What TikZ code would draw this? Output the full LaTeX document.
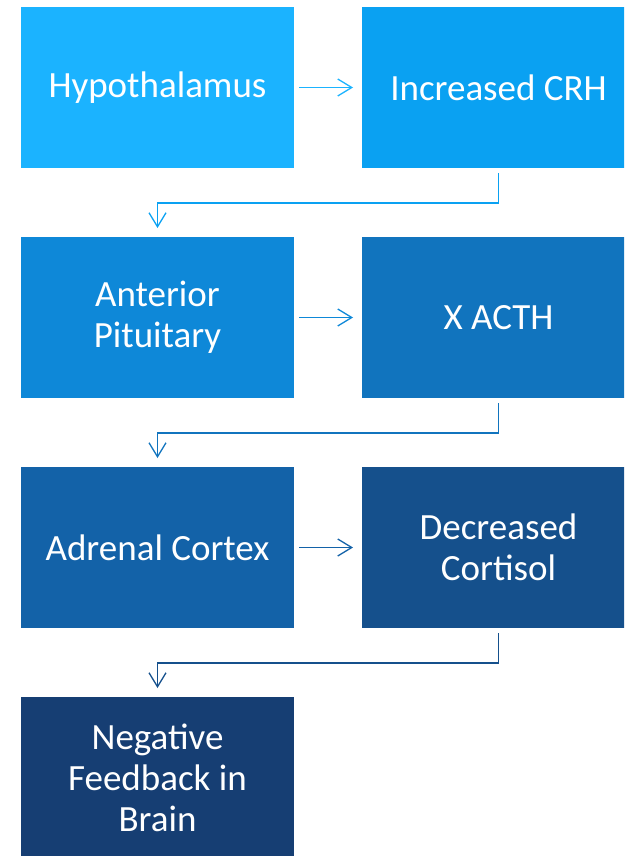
\documentclass[tikz,border=0pt]{standalone}
\usepackage{fontspec}
\setmainfont{Carlito}
\usepackage{tikz}
\usetikzlibrary{arrows.meta}
\usetikzlibrary{positioning, calc}

\definecolor{c1}{HTML}{1BB3FF}
\definecolor{c2}{HTML}{0AA1F2}
\definecolor{c3}{HTML}{0E88D8}
\definecolor{c4}{HTML}{1174BE}
\definecolor{c5}{HTML}{1362A8}
\definecolor{c6}{HTML}{15508C}
\definecolor{c7}{HTML}{163E73}

\begin{document}
\begin{tikzpicture}[->,>={Straight Barb[length=14pt,width=17pt]},line width=1.3pt,
  node distance=68pt and 69pt,
  main node/.style={rectangle,minimum width=273pt,minimum height=161pt,inner sep=0pt,
    outer sep=0pt,text=white,align=center,font=\fontsize{37pt}{41pt}\selectfont},
  across/.style={shorten <=5pt,shorten >=9pt},
  down/.style={shorten <=5pt,shorten >=9pt}]
  \useasboundingbox (0pt,0pt) rectangle (624pt,-856pt);
  \begin{scope}
  \clip (0pt,0pt) rectangle (624pt,-856pt);
  \node[main node, fill=c1] (1) at (157.5pt,-87.5pt) {Hypothalamus};
  \node[main node, fill=c2, right=68pt of 1] (2) {Increased CRH};
  \node[main node, fill=c3, below=69pt of 1] (3) {Anterior\\Pituitary};
  \node[main node, fill=c4, right=68pt of 3] (4) {X ACTH};
  \node[main node, fill=c5, below=69pt of 3] (5) {Adrenal Cortex};
  \node[main node, fill=c6, right=68pt of 5] (6) {Decreased\\Cortisol};
  \node[main node, fill=c7, below=69pt of 5] (7) {Negative\\Feedback in\\Brain};
  \end{scope}
  % rows
  \draw[across, c1] (1) -- (2);
  \draw[across, c3] (3) -- (4);
  \draw[across, c5] (5) -- (6);
  % turns
  \draw[down, c2] (2.south) -- ++(0,-35pt) -| (3.north);
  \draw[down, c4] (4.south) -- ++(0,-35pt) -| (5.north);
  \draw[down, c6] (6.south) -- ++(0,-35pt) -| (7.north);
\end{tikzpicture}
\end{document}
